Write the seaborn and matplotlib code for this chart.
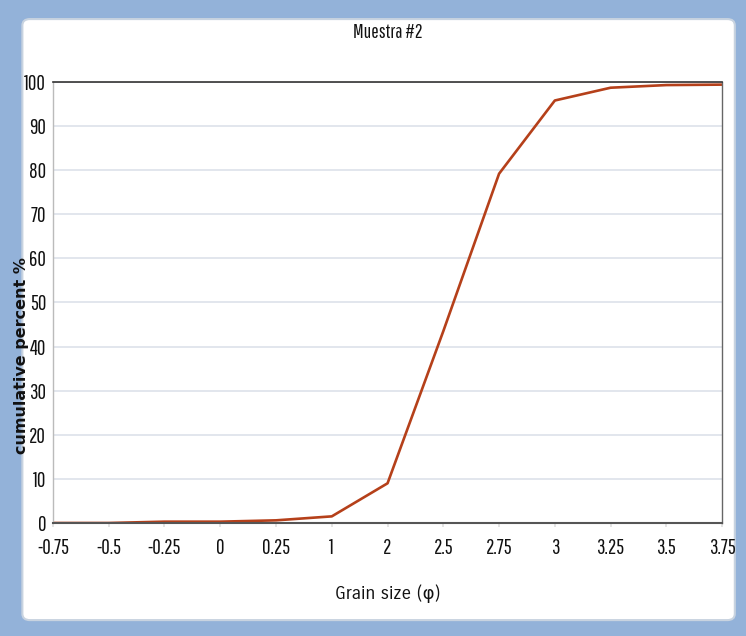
import numpy as np
import pandas as pd
import seaborn as sns
import matplotlib.pyplot as plt
from matplotlib.patches import FancyBboxPatch

# grain size classes (phi) and cumulative percent
grain_size = ['-0.75', '-0.5', '-0.25', '0', '0.25', '1', '2', '2.5', '2.75', '3', '3.25', '3.5', '3.75']
cum_percent = [0.0, 0.0, 0.3, 0.3, 0.6, 1.5, 9.0, 43.5, 79.2, 95.8, 98.7, 99.3, 99.4]
y_ticks = [0, 10, 20, 30, 40, 50, 60, 70, 80, 90, 100]

df = pd.DataFrame({'pos': np.arange(len(grain_size)), 'cum': cum_percent})

sns.set_theme(style='white')
# condensed gothic face, close to the Office chart font
plt.rcParams['font.family'] = ['Pathway Gothic One', 'DejaVu Sans']

fig = plt.figure(figsize=(7.46, 6.36), dpi=100)
fig.patch.set_facecolor('#93b2d9')

# white chart panel inside the blue frame
panel = FancyBboxPatch((0.030, 0.025), 0.955, 0.945, boxstyle='round,pad=0,rounding_size=0.01',
                       transform=fig.transFigure, facecolor='white', edgecolor='#c8d3e0',
                       linewidth=1.5, zorder=-5)
fig.patches.append(panel)

ax = fig.add_axes([0.071, 0.1777, 0.897, 0.6934])
ax.set_facecolor('white')
ax.set_zorder(2)

sns.lineplot(data=df, x='pos', y='cum', color='#b5401a', linewidth=1.9, ax=ax)

ax.set_xlim(0, len(grain_size) - 1)
ax.set_ylim(0, 100)
ax.set_xticks(df['pos'])
ax.set_xticklabels(grain_size)
ax.set_yticks(y_ticks)
ax.yaxis.grid(True, color='#dde2ea', linewidth=1.2)
ax.xaxis.grid(False)

ax.tick_params(axis='x', length=3, color='#e0e0e0', labelsize=15, pad=8, bottom=True)
ax.tick_params(axis='y', length=0, labelsize=15, pad=5)
for lab in ax.get_xticklabels() + ax.get_yticklabels():
    lab.set_color('#111111')

for side in ['top', 'right', 'bottom', 'left']:
    ax.spines[side].set_visible(True)
ax.spines['top'].set_color('#333333')
ax.spines['top'].set_linewidth(1.2)
ax.spines['bottom'].set_color('#555555')
ax.spines['bottom'].set_linewidth(1.5)
ax.spines['right'].set_color('#666666')
ax.spines['right'].set_linewidth(1)
ax.spines['left'].set_color('#bbbbbb')
ax.spines['left'].set_linewidth(1)

ax.set_xlabel('Grain size (\u03c6)', fontsize=13, color='#111111',
              family=['Carrois Gothic', 'DejaVu Sans'])
ax.xaxis.set_label_coords(0.5, -0.14)
ax.set_ylabel('cumulative percent %', fontsize=11.5, color='#111111',
              fontweight='bold', family=['DejaVu Sans'])
ax.yaxis.set_label_coords(-0.036, 0.38)
ax.set_title('Muestra #2', fontsize=14, color='#111111', pad=32)

fig.savefig('out.png', dpi=100, facecolor=fig.get_facecolor())
